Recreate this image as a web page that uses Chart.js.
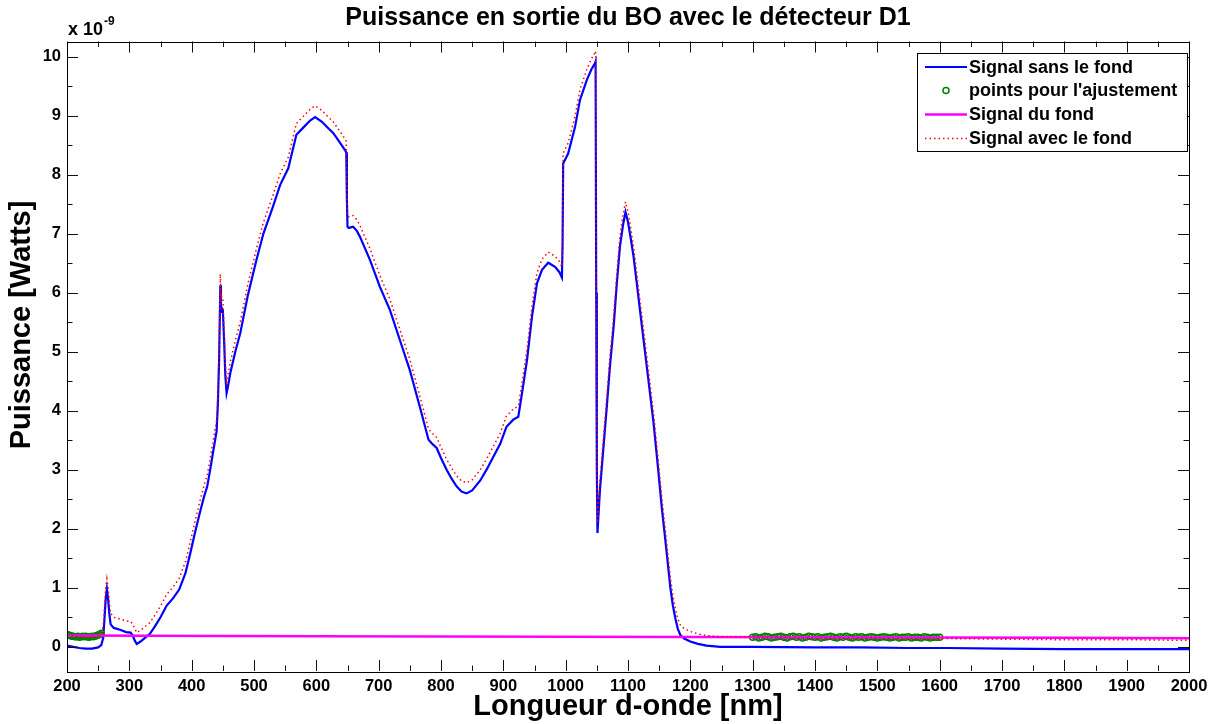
<!DOCTYPE html>
<html>
<head>
<meta charset="utf-8">
<title>Puissance en sortie du BO</title>
<script src="https://cdn.jsdelivr.net/npm/chart.js@4.4.1/dist/chart.umd.min.js"></script>
<style>
    body { margin: 0; background: #fff; }
    #wrap { width: 1219px; height: 724px; }
</style>
</head>
<body>
<div id="wrap"><canvas id="chart" width="1219" height="724"></canvas></div>
<script>
// values in units of 1e-9 W, wavelengths in nm
const wavelengths = [
    200, 210, 220, 230, 240, 250, 255, 258, 260, 262,
    264, 266, 268, 270, 275, 285, 295, 302, 305, 309,
    312, 318, 325, 333, 340, 350, 360, 370, 380, 390,
    397, 405, 413, 420, 425, 430, 435, 440, 442, 444,
    446, 447, 448, 450, 452, 454, 456, 458, 462, 470,
    478, 490, 504, 515, 530, 542, 555, 568, 579, 590,
    598, 609, 620, 627, 637, 646, 648, 649, 650, 652,
    659, 665, 670, 686, 702, 718, 734, 750, 766, 780,
    785, 793, 800, 809, 817, 825, 833, 841, 850, 863,
    874, 884, 895, 905, 916, 924, 930, 938, 946, 954,
    962, 972, 983, 990, 994, 995, 996, 1004, 1015, 1023,
    1034, 1041, 1047, 1048, 1049, 1050, 1051, 1053, 1055, 1060,
    1066, 1071, 1077, 1082, 1087, 1092, 1096, 1100, 1104, 1109,
    1117, 1125, 1133, 1141, 1148, 1154, 1160, 1165, 1168, 1172,
    1176, 1180, 1184, 1190, 1200, 1212, 1226, 1248, 1300, 1400,
    1472, 1550, 1611, 1700, 1800, 1900, 2000
];

const signalSansFond = [
    0.02, 0.00, -0.02, -0.03, -0.03, -0.01, 0.03, 0.15, 0.45, 0.80,
    0.98, 0.80, 0.55, 0.38, 0.32, 0.29, 0.25, 0.24, 0.20, 0.10,
    0.05, 0.09, 0.15, 0.22, 0.33, 0.50, 0.70, 0.82, 0.97, 1.25,
    1.55, 1.92, 2.27, 2.55, 2.72, 3.02, 3.34, 3.65, 4.10, 4.85,
    6.13, 5.66, 5.75, 5.70, 5.20, 4.60, 4.30, 4.40, 4.64, 5.00,
    5.32, 5.95, 6.56, 7.00, 7.45, 7.83, 8.11, 8.68, 8.80, 8.92,
    8.98, 8.90, 8.78, 8.71, 8.56, 8.42, 8.38, 7.60, 7.12, 7.10,
    7.12, 7.05, 6.95, 6.56, 6.10, 5.71, 5.20, 4.69, 4.07, 3.51,
    3.45, 3.37, 3.20, 3.00, 2.85, 2.72, 2.63, 2.60, 2.65, 2.82,
    3.02, 3.22, 3.44, 3.73, 3.85, 3.90, 4.30, 4.86, 5.60, 6.16,
    6.39, 6.51, 6.44, 6.35, 6.26, 6.80, 8.19, 8.36, 8.81, 9.27,
    9.61, 9.78, 9.89, 9.92, 6.00, 3.00, 1.93, 2.30, 2.66, 3.30,
    4.07, 4.75, 5.43, 6.15, 6.78, 7.15, 7.37, 7.20, 6.95, 6.61,
    5.90, 5.20, 4.50, 3.79, 3.05, 2.38, 1.80, 1.30, 1.00, 0.70,
    0.48, 0.30, 0.20, 0.14, 0.09, 0.05, 0.02, 0.00, 0.00, -0.01,
    -0.01, -0.02, -0.02, -0.03, -0.04, -0.04, -0.04
];

const signalAvecFond = [
    0.21, 0.19, 0.17, 0.16, 0.16, 0.18, 0.22, 0.34, 0.64, 0.99,
    1.15, 0.99, 0.74, 0.57, 0.50, 0.47, 0.44, 0.43, 0.39, 0.30,
    0.24, 0.28, 0.34, 0.41, 0.52, 0.69, 0.89, 1.01, 1.16, 1.44,
    1.74, 2.11, 2.46, 2.74, 2.91, 3.21, 3.53, 3.84, 4.29, 5.04,
    6.32, 5.85, 5.94, 5.89, 5.39, 4.79, 4.49, 4.59, 4.83, 5.19,
    5.51, 6.14, 6.75, 7.19, 7.64, 8.02, 8.30, 8.87, 8.99, 9.11,
    9.17, 9.09, 8.97, 8.90, 8.75, 8.61, 8.57, 7.79, 7.31, 7.29,
    7.31, 7.24, 7.14, 6.75, 6.29, 5.89, 5.38, 4.87, 4.25, 3.69,
    3.63, 3.55, 3.38, 3.18, 3.03, 2.90, 2.81, 2.78, 2.83, 3.00,
    3.20, 3.40, 3.62, 3.91, 4.03, 4.08, 4.48, 5.04, 5.78, 6.34,
    6.57, 6.69, 6.62, 6.53, 6.44, 6.98, 8.37, 8.54, 8.99, 9.45,
    9.79, 9.96, 10.07, 10.10, 6.18, 3.18, 2.10, 2.47, 2.83, 3.47,
    4.24, 4.92, 5.60, 6.32, 6.95, 7.32, 7.54, 7.37, 7.12, 6.78,
    6.07, 5.37, 4.67, 3.96, 3.22, 2.55, 1.97, 1.47, 1.17, 0.87,
    0.65, 0.47, 0.37, 0.31, 0.26, 0.22, 0.19, 0.17, 0.17, 0.15,
    0.15, 0.14, 0.14, 0.13, 0.12, 0.12, 0.11
];

const fondWavelengths = [200, 600, 1000, 1400, 1800, 2000];
const signalFond = [0.19, 0.18, 0.17, 0.16, 0.155, 0.145];

const fitWavelengths = [
    200, 202.5, 205, 207.5, 210, 212.5, 215, 217.5, 220, 222.5,
    225, 227.5, 230, 232.5, 235, 237.5, 240, 242.5, 245, 247.5,
    250, 252.5, 255,
    1300, 1305, 1310, 1315, 1320, 1325, 1330, 1335, 1340, 1345,
    1350, 1355, 1360, 1365, 1370, 1375, 1380, 1385, 1390, 1395,
    1400, 1405, 1410, 1415, 1420, 1425, 1430, 1435, 1440, 1445,
    1450, 1455, 1460, 1465, 1470, 1475, 1480, 1485, 1490, 1495,
    1500, 1505, 1510, 1515, 1520, 1525, 1530, 1535, 1540, 1545,
    1550, 1555, 1560, 1565, 1570, 1575, 1580, 1585, 1590, 1595,
    1600
];
const fitValues = [
    0.21, 0.20, 0.19, 0.18, 0.18, 0.17, 0.17, 0.18, 0.16, 0.17,
    0.18, 0.17, 0.18, 0.17, 0.16, 0.17, 0.18, 0.17, 0.18, 0.19,
    0.20, 0.21, 0.23,
    0.16, 0.17, 0.15, 0.16, 0.18, 0.17, 0.15, 0.16, 0.17, 0.18,
    0.16, 0.15, 0.17, 0.18, 0.16, 0.17, 0.15, 0.16, 0.18, 0.17,
    0.16, 0.17, 0.15, 0.16, 0.17, 0.18, 0.16, 0.15, 0.17, 0.16,
    0.18, 0.16, 0.15, 0.17, 0.16, 0.17, 0.15, 0.16, 0.17, 0.16,
    0.15, 0.16, 0.17, 0.16, 0.15, 0.16, 0.17, 0.15, 0.16, 0.16,
    0.17, 0.15, 0.16, 0.16, 0.15, 0.17, 0.16, 0.15, 0.16, 0.16,
    0.16
];

const xTicks = [200, 300, 400, 500, 600, 700, 800, 900, 1000, 1100, 1200, 1300, 1400, 1500, 1600, 1700, 1800, 1900, 2000];
const yTicks = [0, 1, 2, 3, 4, 5, 6, 7, 8, 9, 10];

const chartTitle = 'Puissance en sortie du BO avec le détecteur D1';
const yTitle = 'Puissance [Watts]';

const FONT = "'Liberation Sans', Arial, Helvetica, sans-serif";

function pairs(xs, ys) {
    return xs.map((x, i) => ({ x, y: ys[i] }));
}

// MATLAB-like box with inward ticks on all four sides
const frameTicks = {
    id: 'frameTicks',
    afterDatasetsDraw(chart) {
        const { ctx, chartArea: a, scales: { x, y } } = chart;
        ctx.save();
        ctx.strokeStyle = '#111';
        ctx.lineWidth = 1;
        const seg = (x1, y1, x2, y2) => {
            ctx.beginPath(); ctx.moveTo(x1, y1); ctx.lineTo(x2, y2); ctx.stroke();
        };
        const major = 11, minor = 5.5;
        xTicks.forEach((v, i) => {
            const px = Math.round(x.getPixelForValue(v)) + 0.5;
            seg(px, a.bottom, px, a.bottom - major);
            seg(px, a.top, px, a.top + major);
            if (i < xTicks.length - 1) {
                const pm = Math.round(x.getPixelForValue((v + xTicks[i + 1]) / 2)) + 0.5;
                seg(pm, a.bottom, pm, a.bottom - minor);
                seg(pm, a.top, pm, a.top + minor);
            }
        });
        yTicks.forEach((v, i) => {
            const py = Math.round(y.getPixelForValue(v)) + 0.5;
            seg(a.left, py, a.left + major, py);
            seg(a.right, py, a.right - major, py);
            if (i < yTicks.length - 1) {
                const pm = Math.round(y.getPixelForValue((v + yTicks[i + 1]) / 2)) + 0.5;
                seg(a.left, pm, a.left + minor, pm);
                seg(a.right, pm, a.right - minor, pm);
            }
        });
        ctx.strokeStyle = '#000';
        ctx.strokeRect(Math.round(a.left) + 0.5, Math.round(a.top) + 0.5,
            Math.round(a.right - a.left), Math.round(a.bottom - a.top));
        ctx.restore();
    }
};

const boxLegend = {
    id: 'boxLegend',
    afterDraw(chart) {
        const { ctx, chartArea: a } = chart;
        ctx.save();
        // title centred over the axes, like MATLAB
        ctx.fillStyle = '#000';
        ctx.textAlign = 'center';
        ctx.textBaseline = 'middle';
        ctx.font = `bold 25px ${FONT}`;
        ctx.fillText(chartTitle, (a.left + a.right) / 2, 18);

        // y label, sits a bit above the axis centre in the original
        ctx.save();
        ctx.translate(22, 325);
        ctx.rotate(-Math.PI / 2);
        ctx.font = `bold 29px ${FONT}`;
        ctx.fillText(yTitle, 0, 0);
        ctx.restore();

        // exponent label above the y axis
        ctx.textAlign = 'left';
        ctx.textBaseline = 'alphabetic';
        ctx.font = `bold 18px ${FONT}`;
        ctx.fillText('x 10', a.left + 1, 35);
        const w = ctx.measureText('x 10').width;
        ctx.font = `bold 12px ${FONT}`;
        ctx.fillText('-9', a.left + 1 + w + 1, 25);

        const left = 917, top = 53, width = 270, height = 98;
        ctx.fillStyle = '#fff';
        ctx.fillRect(left, top, width, height);
        ctx.strokeStyle = '#000';
        ctx.lineWidth = 1;
        ctx.strokeRect(left + 0.5, top + 0.5, width, height);
        const rows = [67, 90.5, 114.5, 138.5];
        ctx.font = `bold 18px ${FONT}`;
        ctx.textBaseline = 'middle';
        chart.data.datasets.forEach((ds, i) => {
            const yy = rows[i];
            ctx.save();
            if (ds.showLine === false) {
                ctx.strokeStyle = ds.pointBorderColor;
                ctx.lineWidth = ds.pointBorderWidth;
                ctx.beginPath();
                ctx.arc(946, yy, ds.pointRadius, 0, Math.PI * 2);
                ctx.stroke();
            } else {
                ctx.strokeStyle = ds.borderColor;
                ctx.lineWidth = ds.borderWidth;
                ctx.setLineDash(ds.borderDash || []);
                ctx.beginPath();
                ctx.moveTo(925, yy);
                ctx.lineTo(967, yy);
                ctx.stroke();
            }
            ctx.restore();
            ctx.fillStyle = '#000';
            ctx.fillText(ds.label, 969, yy + 1);
        });
        ctx.restore();
    }
};

new Chart(document.getElementById('chart'), {
    type: 'line',
    data: {
        datasets: [
            {
                label: 'Signal sans le fond',
                data: pairs(wavelengths, signalSansFond),
                borderColor: '#0000ff',
                borderWidth: 2.2,
                pointRadius: 0,
                tension: 0,
                order: 3,
            },
            {
                label: "points pour l'ajustement",
                data: pairs(fitWavelengths, fitValues),
                showLine: false,
                pointRadius: 3,
                pointBorderWidth: 1.5,
                pointBorderColor: '#008000',
                pointBackgroundColor: 'rgba(0,0,0,0)',
                borderColor: '#008000',
                order: 2,
            },
            {
                label: 'Signal du fond',
                data: pairs(fondWavelengths, signalFond),
                borderColor: '#ff00ff',
                borderWidth: 2.5,
                pointRadius: 0,
                tension: 0,
                order: 1,
            },
            {
                label: 'Signal avec le fond',
                data: pairs(wavelengths, signalAvecFond),
                borderColor: '#ff0000',
                borderWidth: 1.5,
                borderDash: [1.5, 3],
                pointRadius: 0,
                tension: 0,
                order: 0,
            },
        ],
    },
    options: {
        responsive: false,
        animation: false,
        devicePixelRatio: 1,
        layout: { padding: { top: 41.5, right: 30, left: 0, bottom: 0 } },
        plugins: {
            legend: { display: false },
            tooltip: { enabled: false },
            title: { display: false },
        },
        scales: {
            x: {
                type: 'linear',
                min: 200,
                max: 2000,
                afterBuildTicks: (scale) => { scale.ticks = xTicks.map((v) => ({ value: v })); },
                afterFit: (scale) => { scale.height = 53; },
                grid: { display: false, drawTicks: false },
                border: { display: false },
                ticks: {
                    autoSkip: false,
                    maxRotation: 0,
                    padding: 6,
                    color: '#000',
                    font: { family: FONT, size: 16.5, weight: 'bold' },
                    callback: (v) => String(v),
                },
                title: {
                    display: true,
                    text: 'Longueur d-onde [nm]',
                    color: '#000',
                    font: { family: FONT, size: 29, weight: 'bold' },
                    padding: { top: 0, bottom: 0 },
                },
            },
            y: {
                type: 'linear',
                min: -0.41,
                max: 10.26,
                afterBuildTicks: (scale) => { scale.ticks = yTicks.map((v) => ({ value: v })); },
                afterFit: (scale) => { scale.width = 67; },
                grid: { display: false, drawTicks: false },
                border: { display: false },
                ticks: {
                    padding: 6,
                    color: '#000',
                    font: { family: FONT, size: 16.5, weight: 'bold' },
                    callback: (v) => String(v),
                },
                title: { display: false },
            },
        },
    },
    plugins: [frameTicks, boxLegend],
});
</script>
</body>
</html>
